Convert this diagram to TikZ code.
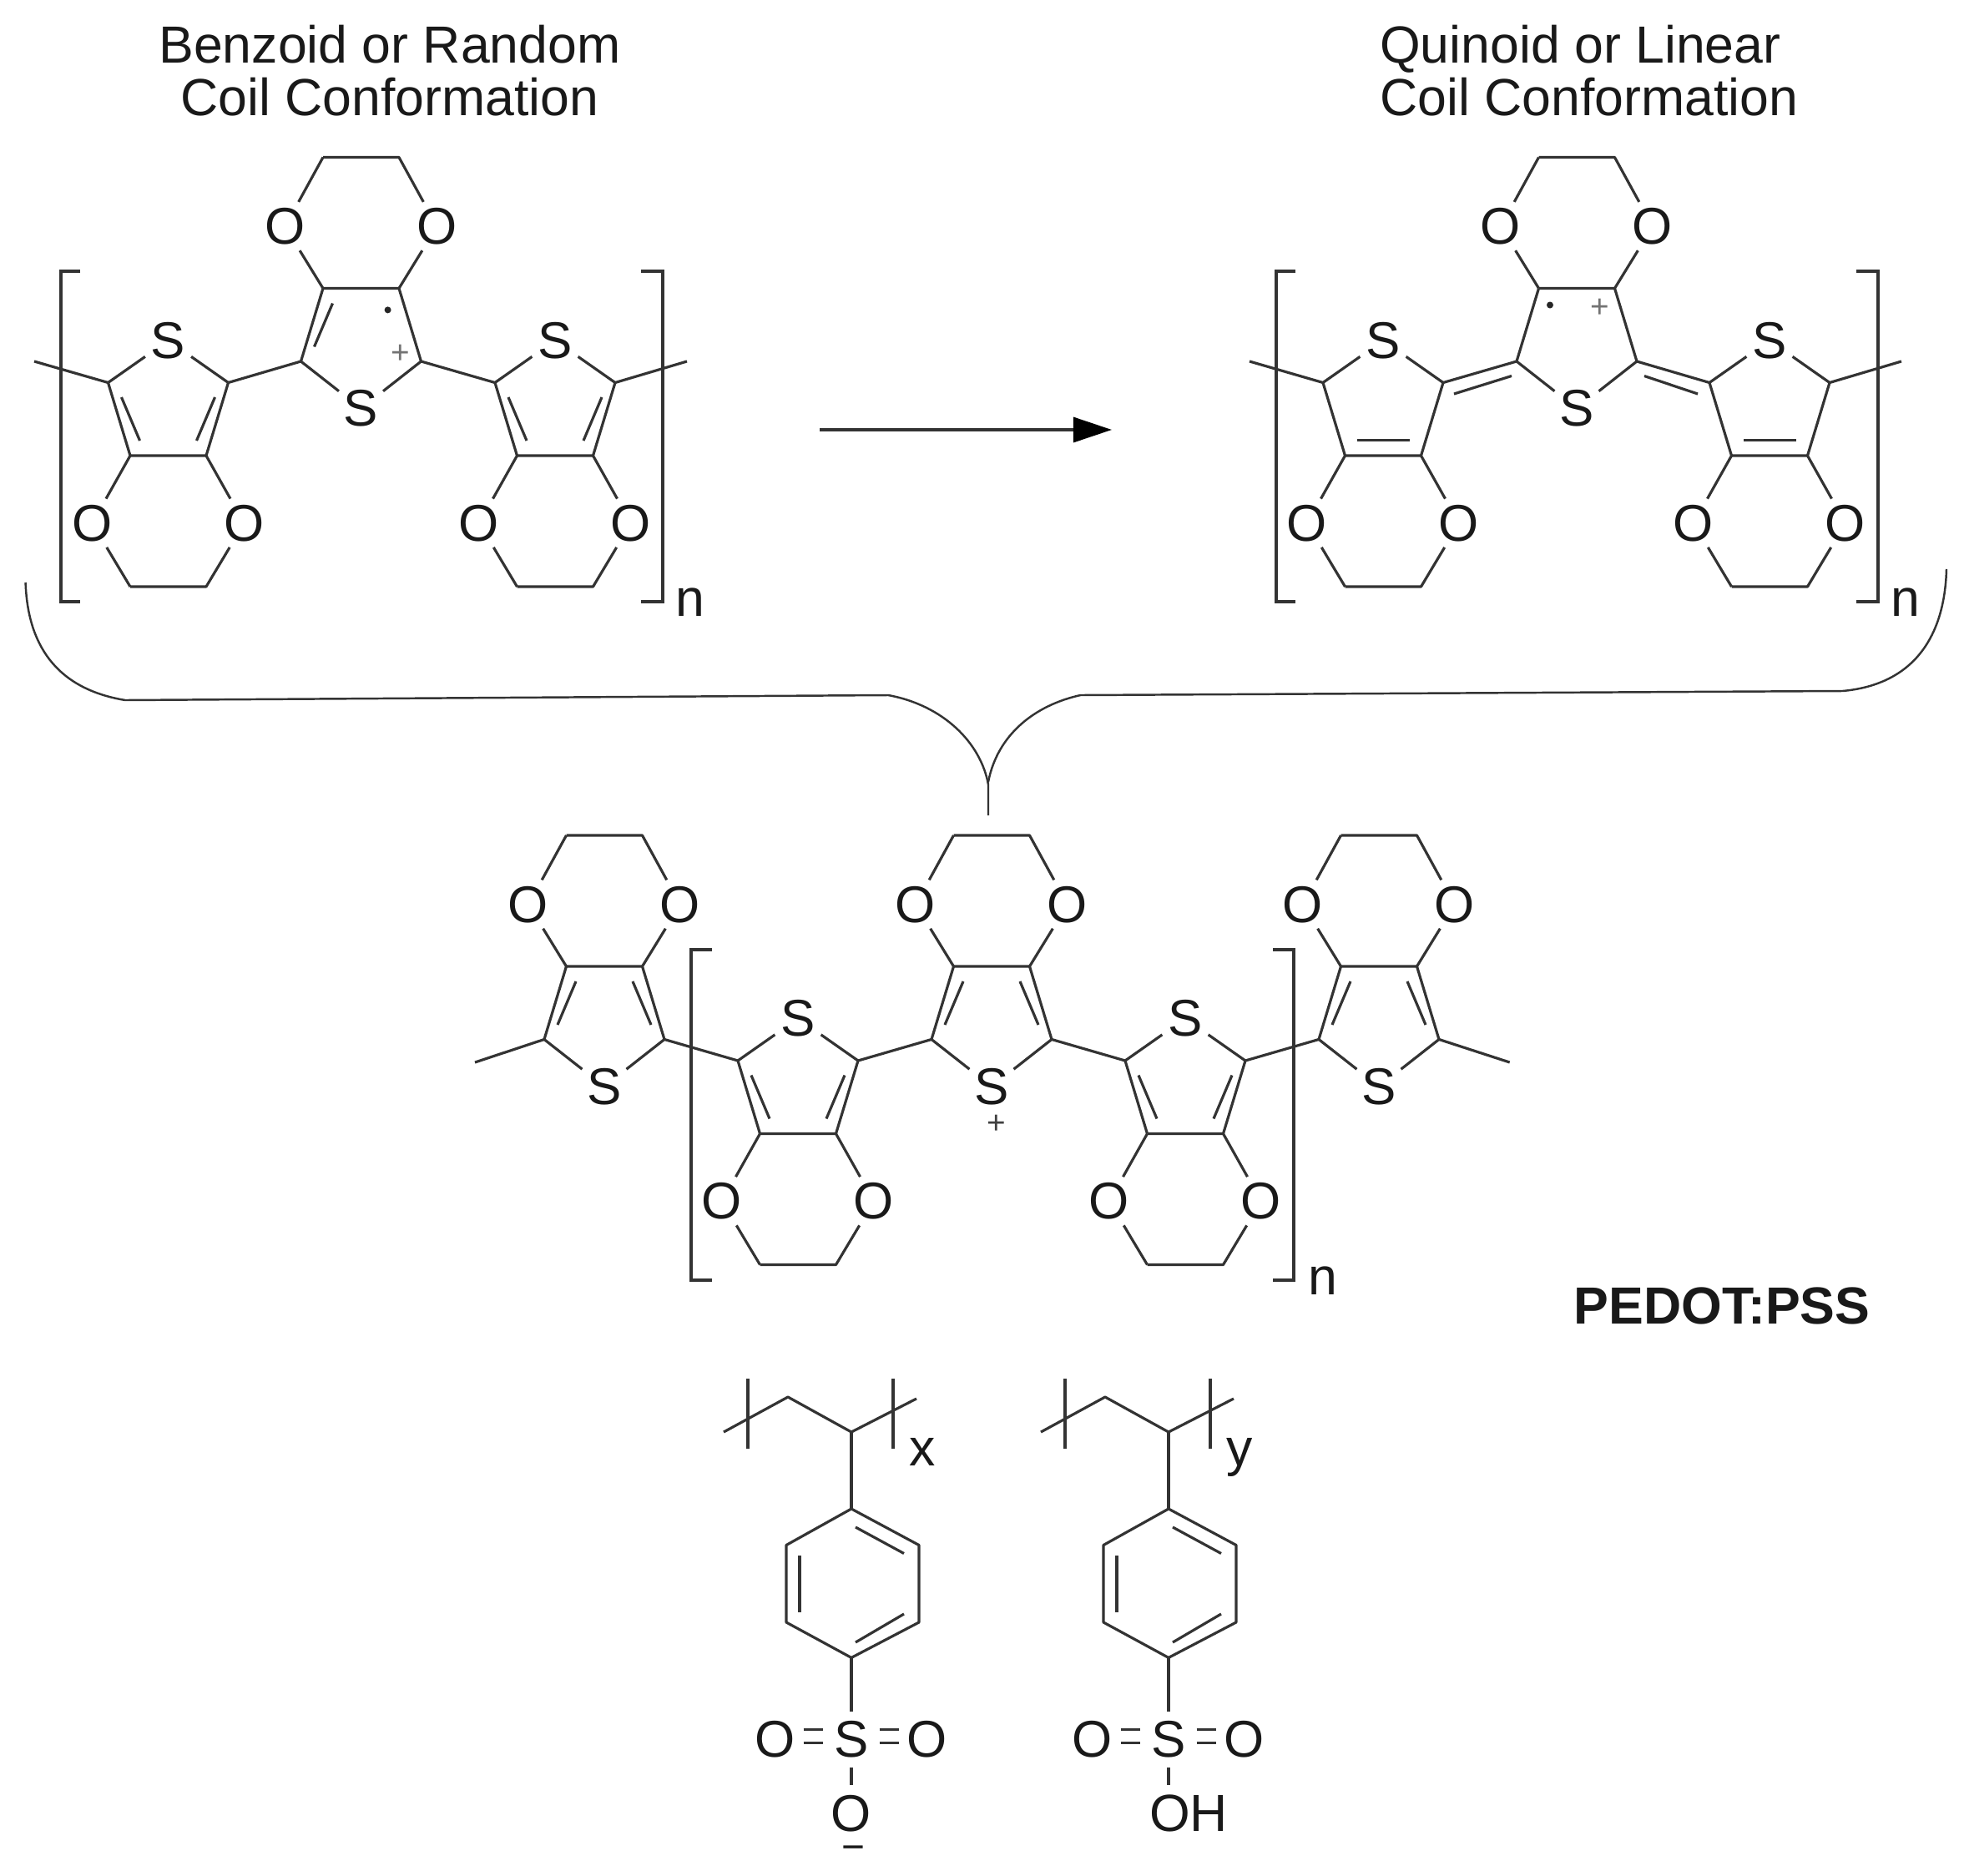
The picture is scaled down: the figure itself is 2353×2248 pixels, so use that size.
\documentclass[tikz,border=0pt]{standalone}
\usepackage{fontspec}
\setmainfont{Liberation Sans}
\usetikzlibrary{arrows.meta,calc}
\tikzset{
  bond/.style={draw=black!80,line width=0.9pt},
  atom/.style={circle,inner sep=0pt,minimum size=0.66cm,text=black!90,font=\fontsize{17.6}{18}\selectfont},
  label/.style={inner sep=1pt,text=black!90,font=\fontsize{17.8}{17.9}\selectfont},
  charge/.style={inner sep=0pt,text=black!55,font=\fontsize{11}{11}\selectfont},
}
% one ring with its dioxane, #4 = 1 puts S on top, #4 = -1 below
\newcommand{\edotring}[4]{
  \coordinate (#1-bl) at (#2-45.5,#3);
  \coordinate (#1-br) at (#2+45.5,#3);
  \coordinate (#1-al) at (#2-72,{#3-(#4)*87.5});
  \coordinate (#1-ar) at (#2+72,{#3-(#4)*87.5});
  \coordinate (#1-cl) at (#2-45.5,{#3+(#4)*157});
  \coordinate (#1-cr) at (#2+45.5,{#3+(#4)*157});
  \coordinate (#1-il) at (#2-34,{#3-(#4)*18});
  \coordinate (#1-jl) at (#2-56,{#3-(#4)*70});
  \coordinate (#1-ir) at (#2+34,{#3-(#4)*18});
  \coordinate (#1-jr) at (#2+56,{#3-(#4)*70});
  \node[atom] (#1-s) at (#2,{#3-(#4)*141+3}) {S};
  \node[atom] (#1-ol) at (#2-91,{#3+(#4)*77.5+3.5}) {O};
  \node[atom] (#1-or) at (#2+91,{#3+(#4)*77.5+3.5}) {O};
  \draw[bond,line join=round] (#1-bl) -- (#1-br) -- (#1-ar);
  \draw[bond] (#1-bl) -- (#1-al);
  \draw[bond] (#1-al) -- (#1-s);
  \draw[bond] (#1-ar) -- (#1-s);
  \draw[bond] (#1-bl) -- (#1-ol);
  \draw[bond] (#1-br) -- (#1-or);
  \draw[bond] (#1-ol) -- (#1-cl);
  \draw[bond,line join=round] (#1-cl) -- (#1-cr) -- (#1-or);
}
% styrene unit down to the S of the sulfonate
\newcommand{\pssunit}[2]{
  \coordinate (#1-e) at (#2-153,1716);
  \coordinate (#1-m) at (#2-76,1674);
  \coordinate (#1-c) at (#2,1716);
  \coordinate (#1-f) at (#2+78,1676);
  \coordinate (#1-t) at (#2,1808);
  \coordinate (#1-ul) at (#2-78,1851.5);
  \coordinate (#1-ur) at (#2+81,1851.5);
  \coordinate (#1-ll) at (#2-78,1944);
  \coordinate (#1-lr) at (#2+81,1944);
  \coordinate (#1-b) at (#2,1986.4);
  \node[atom] (#1-s) at (#2,2084.6) {S};
  \node[atom] (#1-ol) at (#2-91,2084.6) {O};
  \node[atom] (#1-or) at (#2+91,2084.6) {O};
  \draw[bond,line join=round] (#1-e) -- (#1-m) -- (#1-c) -- (#1-f);
  \draw[bond] (#1-c) -- (#1-t);
  \draw[bond,line join=round] (#1-t) -- (#1-ul) -- (#1-ll) -- (#1-b) -- (#1-lr) -- (#1-ur) -- cycle;
  \draw[bond] (#2+5,1830) -- (#2+63,1861.5);
  \draw[bond] (#2-62,1864) -- (#2-62,1932);
  \draw[bond] (#2+5,1968) -- (#2+63,1934);
  \draw[bond] (#1-b) -- (#1-s);
  \draw[bond] ($(#1-ol.east)+(0,-12)$) -- ($(#1-s.west)+(0,-12)$);
  \draw[bond] ($(#1-ol.east)+(0,4)$) -- ($(#1-s.west)+(0,4)$);
  \draw[bond] ($(#1-s.east)+(0,-12)$) -- ($(#1-or.west)+(0,-12)$);
  \draw[bond] ($(#1-s.east)+(0,4)$) -- ($(#1-or.west)+(0,4)$);
  \draw[bond] (#2-124,1652) -- (#2-124,1736);
  \draw[bond] (#2+50,1652) -- (#2+50,1736);
}
\begin{document}
\begin{tikzpicture}[x=0.01cm,y=-0.01cm]
  \useasboundingbox (0,0) rectangle (2353,2248);
  % headings
  \node[label,align=center] (benzoid) at (467,85) {Benzoid or Random\\Coil Conformation};
  \node[label,align=left,anchor=west] (quinoid) at (1649,85) {Quinoid or Linear\\Coil Conformation};
  % benzoid
  \edotring{ba}{201.5}{546}{1}
  \edotring{bb}{432.5}{345.5}{-1}
  \edotring{bc}{665}{546}{1}
  \coordinate (be) at (41,433);
  \coordinate (bf) at (823,433);
  \draw[bond] (be) -- (ba-al);
  \draw[bond] (ba-ar) -- (bb-al);
  \draw[bond] (bb-ar) -- (bc-al);
  \draw[bond] (bc-ar) -- (bf);
  \draw[bond] (ba-il) -- (ba-jl);
  \draw[bond] (ba-ir) -- (ba-jr);
  \draw[bond] (bb-il) -- (bb-jl);
  \draw[bond] (bc-il) -- (bc-jl);
  \draw[bond] (bc-ir) -- (bc-jr);
  \fill[black!85] (464.6,371.4) circle (4);
  \node[charge] (bplus) at (480,424) {+};
  \draw[bond] (96,325) -- (73,325) -- (73,721) -- (96,721);
  \draw[bond] (768,325) -- (794,325) -- (794,721) -- (768,721);
  \node[label] (bn) at (827,721.5) {n};
  % quinoid
  \edotring{qa}{1657}{546}{1}
  \edotring{qb}{1889}{345.5}{-1}
  \edotring{qc}{2120}{546}{1}
  \coordinate (qe) at (1497,433);
  \coordinate (qf) at (2278,433);
  \draw[bond] (qe) -- (qa-al);
  \draw[bond] (qa-ar) -- (qb-al);
  \draw[bond] (qb-ar) -- (qc-al);
  \draw[bond] (qc-ar) -- (qf);
  \draw[bond] (1742,472) -- (1811,450.5);
  \draw[bond] (1970,450.5) -- (2034,472);
  \draw[bond] (1626,527.6) -- (1689,527.6);
  \draw[bond] (2089,527.6) -- (2152,527.6);
  \fill[black!85] (1857,365.5) circle (4);
  \node[charge] (qplus) at (1917,369.5) {+};
  \draw[bond] (1552,325) -- (1529,325) -- (1529,721) -- (1552,721);
  \draw[bond] (2224,325) -- (2250,325) -- (2250,721) -- (2224,721);
  \node[label] (qn) at (2283,721.5) {n};
  % reaction arrow
  \coordinate (ra) at (982,515);
  \coordinate (rb) at (1332,515);
  \draw[bond,-{Triangle[length=0.46cm,width=0.3cm,black]}] (ra) -- (rb);
  % brace
  \draw[bond,line width=0.7pt,line join=round] (30.6,698) .. controls (33,770) and (65,825) .. (150,839) -- (1064,833) .. controls (1130,845) and (1175,890) .. (1184,940) -- (1184,977);
  \draw[bond,line width=0.7pt,line join=round] (2332,682) .. controls (2330,760) and (2295,820) .. (2207.7,828) -- (1294.5,833) .. controls (1240,845) and (1195,880) .. (1184,937);
  % doped chain
  \edotring{da}{724}{1158}{-1}
  \edotring{db}{956}{1358.5}{1}
  \edotring{dc}{1188}{1158}{-1}
  \edotring{dd}{1420}{1358.5}{1}
  \edotring{de}{1652}{1158}{-1}
  \coordinate (dg) at (569,1273);
  \coordinate (dh) at (1808.7,1273);
  \draw[bond] (dg) -- (da-al);
  \draw[bond] (da-ar) -- (db-al);
  \draw[bond] (db-ar) -- (dc-al);
  \draw[bond] (dc-ar) -- (dd-al);
  \draw[bond] (dd-ar) -- (de-al);
  \draw[bond] (de-ar) -- (dh);
  \foreach \r in {da,db,dc,dd,de} {
    \draw[bond] (\r-il) -- (\r-jl);
    \draw[bond] (\r-ir) -- (\r-jr);
  }
  \node[charge,text=black!75] (dplus) at (1193.4,1347) {+};
  \draw[bond] (853,1138) -- (828,1138) -- (828,1534) -- (853,1534);
  \draw[bond] (1525,1138) -- (1550,1138) -- (1550,1534) -- (1525,1534);
  \node[label] (dn) at (1585,1534.5) {n};
  \node[label,font=\bfseries\fontsize{17.8}{18}\selectfont] (pedot) at (2063,1565) {PEDOT:PSS};
  % PSS
  \pssunit{pa}{1020}
  \pssunit{pb}{1400}
  \node[atom] (pa-o) at (1020,2172.7) {O};
  \draw[bond] (pa-s) -- (pa-o);
  \node[label,inner sep=0pt,font=\fontsize{13.6}{14}\selectfont] (pminus) at (1022,2221) {−};
  \node[label,inner sep=3pt] (pb-oh) at (1424,2172.7) {OH};
  \draw[bond] (pb-s) -- (pb-oh.north -| pb-s);
  \node[label] (px) at (1105.6,1740) {x};
  \node[label] (py) at (1485,1746) {y};
\end{tikzpicture}
\end{document}
